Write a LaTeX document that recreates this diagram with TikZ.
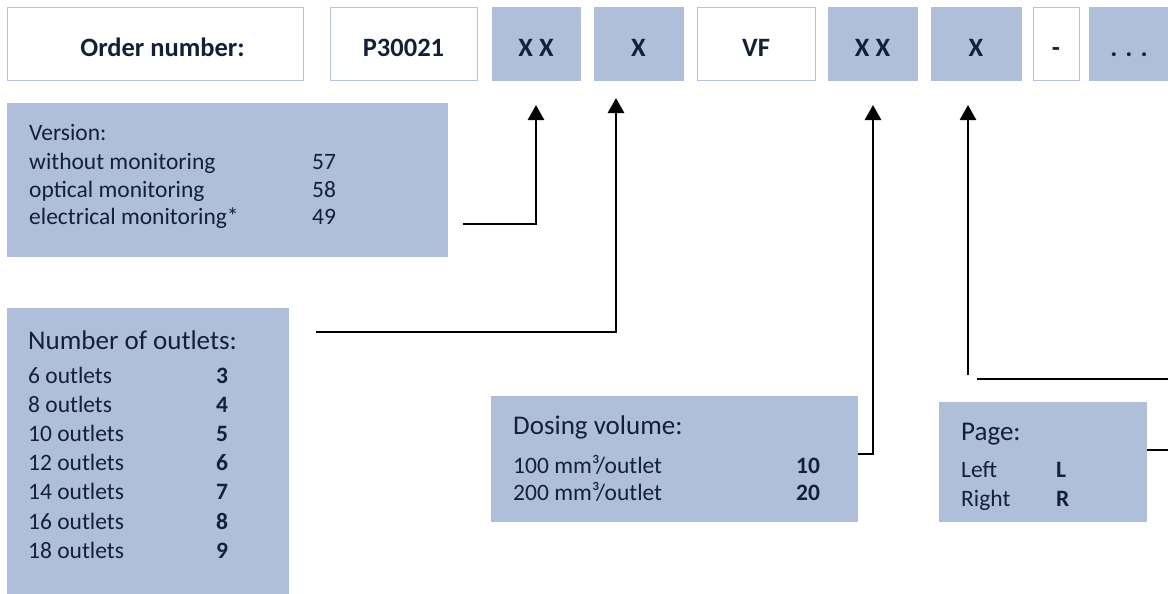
\documentclass[tikz,border=0pt]{standalone}
\usepackage{fontspec}
\setmainfont{Carlito}
\usetikzlibrary{arrows.meta}
\definecolor{boxblue}{RGB}{175,191,217}
\definecolor{boxedge}{RGB}{180,196,222}
\definecolor{txt}{RGB}{20,32,56}
\tikzset{
  whitecell/.style={draw=boxedge, fill=white, line width=1.3pt, inner sep=0pt, anchor=north west},
  bluecell/.style={draw=boxblue, fill=boxblue, line width=1.3pt, inner sep=0pt, anchor=north west},
  panel/.style={fill=boxblue, draw=none, inner sep=0pt, anchor=north west},
  celltext/.style={anchor=base, inner sep=0pt, text=txt, font=\fontsize{26.5}{31}\selectfont\bfseries},
  tx/.style={anchor=base west, inner sep=0pt, text=txt, font=\fontsize{23.5}{28}\selectfont},
  txb/.style={tx, font=\fontsize{23.5}{28}\selectfont\bfseries},
  hd/.style={tx, font=\fontsize{27}{32}\selectfont},
  conn/.style={line width=2.8pt, black},
  arr/.style={conn, -{Triangle[length=15pt,width=16pt]}}
}
\begin{document}
\begin{tikzpicture}[x=1pt,y=-1pt]
\useasboundingbox (0,0) rectangle (1168,594);
\clip (0,0) rectangle (1168,594);
% top row
\node[whitecell, minimum width=296, minimum height=73] (order) at (7,7) {};
\node[celltext] (ordert) at (162.5,57) {Order number:};
\node[whitecell, minimum width=147, minimum height=73] (pnum) at (330,7) {};
\node[celltext] (pnumt) at (403.5,57) {P30021};
\node[bluecell, minimum width=88, minimum height=73] (xx1) at (492,7) {};
\node[celltext] (xx1t) at (536,57) {X X};
\node[bluecell, minimum width=89, minimum height=73] (x1) at (594,7) {};
\node[celltext] (x1t) at (638.5,57) {X};
\node[whitecell, minimum width=118, minimum height=73] (vf) at (697,7) {};
\node[celltext] (vft) at (756,57) {VF};
\node[bluecell, minimum width=89, minimum height=73] (xx2) at (828,7) {};
\node[celltext] (xx2t) at (872.5,57) {X X};
\node[bluecell, minimum width=90, minimum height=73] (x2) at (931,7) {};
\node[celltext] (x2t) at (976,57) {X};
\node[whitecell, minimum width=46, minimum height=73] (dash) at (1033,7) {};
\node[celltext] (dasht) at (1056,57) {-};
\node[bluecell, minimum width=90, minimum height=73] (dots) at (1089,7) {};
\node[celltext] (dotst) at (1129,57) {. . .};
% Version panel
\node[panel, minimum width=441, minimum height=154] (ver) at (7,103) {};
\node[tx] (v0) at (29,140) {Version:};
\node[tx] (v1) at (29,169) {without monitoring};
\node[tx] (v2) at (29,197) {optical monitoring};
\node[tx] (v3) at (29,224) {electrical monitoring*};
\node[tx] (v1n) at (312,169) {57};
\node[tx] (v2n) at (312,197) {58};
\node[tx] (v3n) at (312,224) {49};
% Number of outlets panel
\node[panel, minimum width=282, minimum height=290] (out) at (7,308) {};
\node[hd] (o0) at (28,349) {Number of outlets:};
\foreach \i/\a/\b in {0/6/3,1/8/4,2/10/5,3/12/6,4/14/7,5/16/8,6/18/9}{
  \node[tx] (o\i) at (28,383+29.2*\i) {\a\ outlets};
  \node[txb] (on\i) at (216,383+29.2*\i) {\b};
}
% Dosing panel
\node[panel, minimum width=367, minimum height=126] (dos) at (491,396) {};
\node[hd] (d0) at (513,434) {Dosing volume:};
\node[tx] (d1) at (513,473) {100 mm³/outlet};
\node[tx] (d2) at (513,500) {200 mm³/outlet};
\node[txb] (d1n) at (796,473) {10};
\node[txb] (d2n) at (796,500) {20};
% Page panel
\node[panel, minimum width=208, minimum height=120] (page) at (939,402) {};
\node[hd] (p0) at (961,440) {Page:};
\node[tx] (p1) at (961,477) {Left};
\node[tx] (p2) at (961,506) {Right};
\node[txb] (p1n) at (1056,477) {L};
\node[txb] (p2n) at (1056,506) {R};
% connector end points
\coordinate (c1) at (463,224);
\coordinate (t1) at (536,105);
\coordinate (c2) at (316,332);
\coordinate (t2) at (616,98);
\coordinate (t3) at (873,105);
\coordinate (c4a) at (1185,379);
\coordinate (c4b) at (977,379);
\coordinate (c4c) at (968,375);
\coordinate (t4) at (968,105);
% connectors
\draw[arr] (c1) -| (t1);
\draw[arr] (c2) -| (t2);
\draw[arr] (dos.east |- 0,454) -| (t3);
\draw[conn] (page.east |- 0,450) -| (c4a) -- (c4b);
\draw[arr] (c4c) -- (t4);
\end{tikzpicture}
\end{document}
